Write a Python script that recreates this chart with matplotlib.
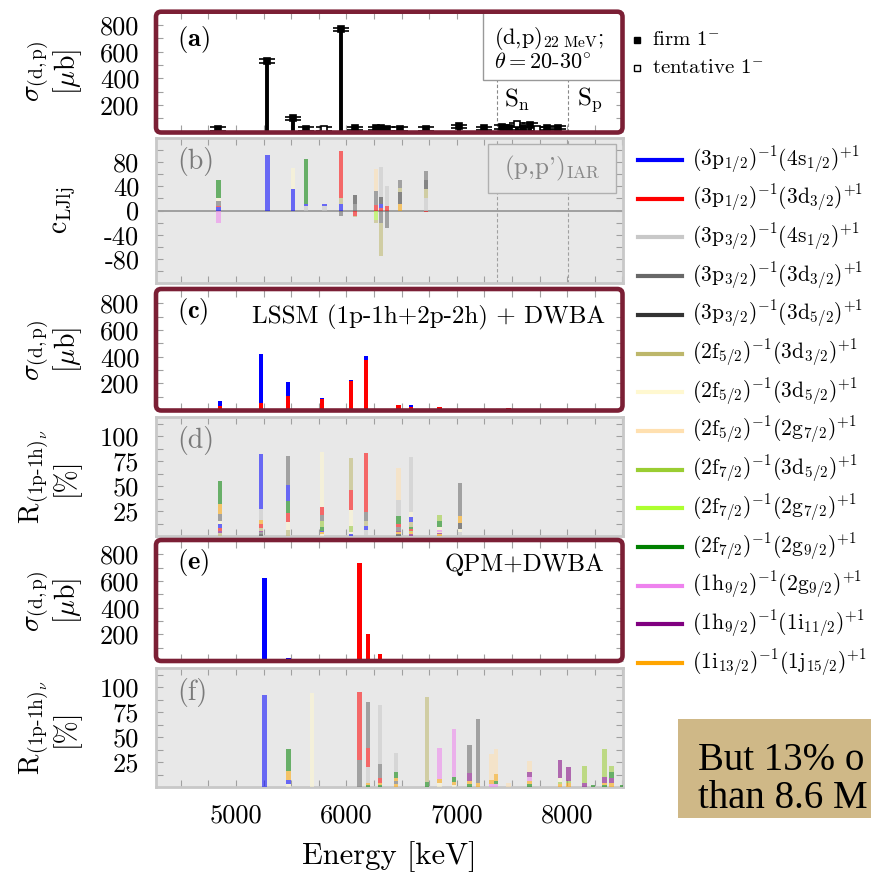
import matplotlib
matplotlib.use('Agg')
import matplotlib.pyplot as plt
from matplotlib.patches import Rectangle, FancyBboxPatch
from matplotlib.lines import Line2D
from matplotlib.ticker import MultipleLocator, FuncFormatter

plt.rcParams['font.family'] = ['cmr10']
plt.rcParams['mathtext.fontset'] = 'cm'
plt.rcParams['axes.unicode_minus'] = False

# 1p-1h components (hole, particle) and colours
comp_hole = ['3p_{1/2}', '3p_{1/2}', '3p_{3/2}', '3p_{3/2}', '3p_{3/2}', '2f_{5/2}', '2f_{5/2}',
             '2f_{5/2}', '2f_{7/2}', '2f_{7/2}', '2f_{7/2}', '1h_{9/2}', '1h_{9/2}', '1i_{13/2}']
comp_part = ['4s_{1/2}', '3d_{3/2}', '4s_{1/2}', '3d_{3/2}', '3d_{5/2}', '3d_{3/2}', '3d_{5/2}',
             '2g_{7/2}', '3d_{5/2}', '2g_{7/2}', '2g_{9/2}', '2g_{9/2}', '1i_{11/2}', '1j_{15/2}']
comp_colors = ['#0000ff', '#ff0000', '#c8c8c8', '#686868', '#333333', '#bdb76b', '#fff8d0',
               '#ffe0b0', '#9acd32', '#adff2f', '#008000', '#ee82ee', '#800080', '#ffa500']

# (a) experiment (d,p)
exp_E = [4840, 5284, 5514, 5635, 5801, 5949, 6079, 6269, 6312, 6366, 6487, 6723, 7024,
         7242, 7408, 7469, 7544, 7601, 7665, 7726, 7817, 7914]
exp_sig = [20, 530, 100, 20, 20, 768, 25, 25, 25, 20, 20, 20, 40, 25, 35, 25, 55, 25, 50, 20, 25, 30]
exp_firm = [1, 1, 1, 1, 0, 1, 1, 1, 1, 1, 1, 1, 1, 1, 1, 1, 0, 1, 1, 0, 1, 1]

# (b) c_LJlj from (p,p')_IAR, segments (component, value) stacked from zero
iar_E = [4840, 5284, 5514, 5635, 5801, 5949, 6079, 6269, 6312, 6366, 6487, 6723]
iar_seg = [
    [(0, 5.5), (1, 2.5), (3, 7.4), (6, 5.6), (10, 30), (11, -20)],
    [(0, 91.5)],
    [(0, 36), (6, 34.5)],
    [(2, 8), (0, 2), (10, 76)],
    [(2, 8), (0, 2.5)],
    [(0, 10), (5, 11), (1, 77), (3, -9)],
    [(3, 11), (4, 15), (1, -9), (5, -2)],
    [(1, 9), (3, 24), (7, 36), (9, -15), (5, -5)],
    [(1, 4), (0, 7), (4, 11), (2, 50), (3, -20), (5, -55)],
    [(1, 8), (2, 32), (3, -29)],
    [(13, 11), (4, 20), (5, 6), (3, 14)],
    [(2, 21), (5, 14), (4, 16), (3, 14), (1, -2)],
]

# (c) LSSM + DWBA cross sections
lssm_E = [4855, 5227, 5468, 5777, 6043, 6176, 6472, 6587, 6843, 7028, 7122, 7197, 7273,
          7348, 7469, 7605, 7711, 7786, 7862, 8043, 8103, 8164, 8224]
lssm_sig = [
    [(1, 32), (0, 35)], [(1, 50), (0, 367)], [(1, 105), (0, 102)], [(1, 82), (0, 10)],
    [(1, 217), (0, 8)], [(1, 375), (0, 27)], [(1, 37)], [(1, 25), (0, 12)], [(1, 20)],
    [(1, 4)], [(1, 4)], [(1, 4)], [(1, 4)], [(1, 4)], [(1, 12)], [(1, 4)], [(1, 4)],
    [(1, 4)], [(1, 4)], [(1, 4)], [(1, 4)], [(1, 4)], [(0, 4)],
]

# (d) LSSM 1p-1h composition [%]
lssm_R_E = [4855, 5227, 5468, 5777, 6043, 6176, 6472, 6587, 6843, 7028]
lssm_R = [
    [(5, 2.7), (12, 2.3), (1, 2.7), (0, 4), (6, 3.3), (3, 6.7), (13, 10), (10, 23.3)],
    [(4, 2), (3, 1.7), (12, 1.3), (5, 2.7), (1, 4.3), (13, 4), (2, 10.7), (0, 55)],
    [(5, 6), (6, 7.7), (1, 9.6), (10, 11.7), (0, 16), (3, 29)],
    [(6, 2), (13, 1.7), (0, 1.6), (10, 3.4), (8, 6.3), (3, 6), (1, 7.7), (6, 55)],
    [(0, 2), (6, 2.3), (8, 6), (6, 15.7), (1, 20), (5, 32.3)],
    [(2, 6), (0, 4.3), (5, 5), (3, 8.4), (1, 59.6)],
    [(4, 2), (13, 1.7), (12, 1.6), (3, 3.4), (1, 3.3), (10, 8.3), (2, 15.7), (7, 31.7)],
    [(12, 1.7), (13, 2), (8, 1.6), (1, 1.7), (10, 1.7), (5, 5), (0, 5), (6, 5), (2, 55)],
    [(13, 1.7), (12, 1), (7, 1.6), (11, 1.7), (6, 3.3), (10, 5.7), (8, 6)],
    [(2, 4.3), (6, 2.7), (4, 6.3), (13, 7), (3, 32.4)],
]

# (e) QPM + DWBA cross sections
qpm_E = [5257, 5474, 6118, 6193, 6306, 6451]
qpm_sig = [[(0, 625)], [(0, 20)], [(1, 737)], [(1, 202)], [(1, 50)], [(1, 8)]]

# (f) QPM 1p-1h composition [%]
qpm_R_E = [5257, 5474, 5686, 6118, 6193, 6306, 6451, 6729, 6843, 6976, 7115, 7191, 7315,
           7357, 7469, 7659, 7937, 8013, 8155, 8234, 8339, 8400, 8497]
qpm_R = [
    [(0, 92)],
    [(6, 2.7), (0, 4.3), (13, 9), (10, 22)],
    [(6, 93.7)],
    [(3, 27), (1, 67.7)],
    [(10, 1.7), (13, 2), (2, 16.6), (1, 18.4), (3, 46)],
    [(10, 2.3), (13, 2), (1, 4.4), (3, 14), (2, 59.3)],
    [(13, 2.7), (3, 3.3), (13, 2.7), (10, 6.6), (2, 18.4)],
    [(10, 4.7), (5, 85.3)],
    [(6, 3.7), (13, 4), (11, 31.3)],
    [(6, 2), (13, 2.7), (10, 5), (11, 48.3)],
    [(10, 3), (13, 3.3), (12, 8), (3, 27.7)],
    [(13, 4.3), (3, 63.7)],
    [(11, 2.7), (13, 4.3), (7, 26)],
    [(11, 2.7), (10, 3.6), (13, 6.7), (7, 25)],
    [(7, 3.7)],
    [(10, 3), (13, 3.3), (11, 4), (12, 5), (7, 10.7)],
    [(13, 3), (8, 2.3), (6, 3.4), (12, 18.3)],
    [(13, 3.7), (8, 2.6), (12, 13.4)],
    [(12, 3.7), (8, 17.3)],
    [(10, 1.7)],
    [(10, 1.7), (13, 2), (12, 6), (8, 28.3)],
    [(13, 4.3), (12, 4.3), (10, 6), (8, 6.7)],
    [(10, 2)],
]

S_n, S_p = 7368, 8004

W, H = 871, 874
maroon = '#7b1f35'
fig = plt.figure(figsize=(W / 100, H / 100), dpi=100)


def add_ax(top, bot):
    return fig.add_axes([156 / W, 1 - bot / H, (623 - 156) / W, (bot - top) / H])


def style(ax, ylim, step, labels, faded):
    ax.set_xlim(4275, 8505)
    ax.set_ylim(*ylim)
    ax.xaxis.set_major_locator(MultipleLocator(250))
    ax.xaxis.set_major_formatter(FuncFormatter(lambda v, p: '%d' % v if v % 1000 == 0 else ''))
    ax.yaxis.set_major_locator(MultipleLocator(step))
    ax.yaxis.set_major_formatter(FuncFormatter(lambda v, p: '%d' % v if round(v, 2) in labels else ''))
    ax.tick_params(direction='in', top=True, right=True, length=5, width=0.8, color='#a0a0a0',
                   labelsize=19, pad=12, labelbottom=False)
    if faded:
        ax.set_facecolor('#e8e8e8')
        for s in ax.spines.values():
            s.set_color('#c8c8c8')
            s.set_linewidth(2)
    else:
        for s in ax.spines.values():
            s.set_visible(False)


def stack(ax, E, segs, alpha=1.0, w=40, z=2):
    for e, seg in zip(E, segs):
        pos, neg = 0, 0
        for c, v in seg:
            if v >= 0:
                ax.bar(e, v, w, bottom=pos, color=comp_colors[c], alpha=alpha, lw=0, zorder=z)
                pos += v
            else:
                ax.bar(e, v, w, bottom=neg, color=comp_colors[c], alpha=alpha, lw=0, zorder=z)
                neg += v


def frame(top, bot):
    fig.add_artist(FancyBboxPatch((156 / W, 1 - bot / H), (622.5 - 156) / W, (bot - top) / H,
                                  boxstyle='round,pad=0,rounding_size=0.006', fc='none',
                                  ec=maroon, lw=3.3, transform=fig.transFigure, zorder=10))


def ylab(ax, text, right_px):
    ax.set_ylabel(text, fontsize=20, linespacing=1.0)
    ax.yaxis.set_label_coords((right_px - 156) / 467, 0.5)


sig_lab = r'$\sigma_{\rm (d,p)}$' + '\n' + r'[$\mu$b]'
R_lab = r'$\mathrm{R}_{(\mathrm{1p}\text{-}\mathrm{1h})_\nu}$' + '\n' + '[%]'
fade = 0.55
gtxt = '#7a7a7a'

# (a)
ax = add_ax(11.7, 131.7)
style(ax, (0, 900), 100, [200, 400, 600, 800], False)
for e, s, f in zip(exp_E, exp_sig, exp_firm):
    ax.vlines(e, 0, s, color='k', lw=2.8, zorder=3)
    ax.errorbar(e, s, yerr=12, fmt='s', ms=5, mfc='k' if f else 'white', mec='k', mew=1.2,
                ecolor='k', elinewidth=2, capsize=6, capthick=2.4, zorder=4)
ax.vlines([S_n], 0, 390, colors='#888888', lw=0.8, ls=(0, (3, 2)), zorder=1)
ax.vlines([S_p], 0, 900, colors='#888888', lw=0.8, ls=(0, (3, 2)), zorder=1)
ax.add_patch(Rectangle((0.70, 0.43), 0.31, 0.6, transform=ax.transAxes, fc='white',
                       ec='#999999', lw=1, zorder=5))
ax.text(0.723, 0.78, r'(d,p)$_{\rm 22\ MeV}$;', transform=ax.transAxes, fontsize=16, va='center', zorder=6)
ax.text(0.723, 0.58, r'$\theta = 20$-$30^{\circ}$', transform=ax.transAxes, fontsize=16, va='center', zorder=6)
ax.text(7430, 238, r'S$_{\rm n}$', fontsize=18, va='center')
ax.text(8091, 238, r'S$_{\rm p}$', fontsize=18, va='center')
ax.text(0.045, 0.77, r'$\mathbf{(a)}$', transform=ax.transAxes, fontsize=19, va='center')
ylab(ax, sig_lab, 84)
frame(11.7, 132.5)

# (b)
ax = add_ax(138, 283)
style(ax, (-120, 120), 20, [-80, -40, 0, 40, 80], True)
ax.axhline(0, color='#a0a0a0', lw=1.4, zorder=1)
stack(ax, iar_E, iar_seg, fade, z=3)
ax.vlines([S_n, S_p], -120, 120, colors='#a0a0a0', lw=0.8, ls=(0, (3, 2)), zorder=1)
ax.add_patch(Rectangle((0.711, 0.621), 0.274, 0.338, transform=ax.transAxes, fc='#e8e8e8',
                       ec='#b0b0b0', lw=1, zorder=5))
ax.text(0.848, 0.79, r"(p,p')$_{\rm IAR}$", transform=ax.transAxes, fontsize=18, color='#888888',
        ha='center', va='center', zorder=6)
ax.text(0.045, 0.84, '(b)', transform=ax.transAxes, fontsize=20, color=gtxt, va='center')
ylab(ax, r'$\mathrm{c}_{\mathrm{LJlj}}$', 78)

# (c)
ax = add_ax(290, 410)
style(ax, (0, 900), 100, [200, 400, 600, 800], False)
stack(ax, lssm_E, lssm_sig)
ax.text(0.045, 0.82, r'$\mathbf{(c)}$', transform=ax.transAxes, fontsize=19, va='center')
ax.text(0.961, 0.775, 'LSSM (1p-1h+2p-2h) + DWBA', transform=ax.transAxes, fontsize=18,
        ha='right', va='center')
ylab(ax, sig_lab, 84)
frame(289, 410.5)

# (d)
ax = add_ax(417, 536)
style(ax, (0, 119), 12.5, [25, 50, 75, 100], True)
stack(ax, lssm_R_E, lssm_R, fade, z=3)
ax.text(0.045, 0.80, '(d)', transform=ax.transAxes, fontsize=20, color=gtxt, va='center')
ylab(ax, R_lab, 80)

# (e)
ax = add_ax(541, 661)
style(ax, (0, 900), 100, [200, 400, 600, 800], False)
stack(ax, qpm_E, qpm_sig)
ax.text(0.045, 0.817, r'$\mathbf{(e)}$', transform=ax.transAxes, fontsize=19, va='center')
ax.text(0.961, 0.80, 'QPM+DWBA', transform=ax.transAxes, fontsize=18, ha='right', va='center')
ylab(ax, sig_lab, 84)
frame(540, 661)

# (f)
ax = add_ax(668, 787)
style(ax, (0, 119), 12.5, [25, 50, 75, 100], True)
ax.tick_params(labelbottom=True)
stack(ax, qpm_R_E, qpm_R, fade, z=3)
ax.text(0.045, 0.79, '(f)', transform=ax.transAxes, fontsize=20, color=gtxt, va='center')
ylab(ax, R_lab, 80)
ax.set_xlabel('Energy [keV]', fontsize=22, labelpad=10)

# legend for experiment
fig.add_artist(Line2D([637 / W], [1 - 40 / H], marker='s', ms=5, color='k', transform=fig.transFigure))
fig.add_artist(Line2D([637 / W], [1 - 68 / H], marker='s', ms=5, mfc='white', mec='k', mew=1,
                      color='k', transform=fig.transFigure))
fig.text(652 / W, 1 - 40 / H, r'firm 1$^{-}$', fontsize=15, va='center')
fig.text(652 / W, 1 - 68 / H, r'tentative 1$^{-}$', fontsize=15, va='center')

# legend for components
for i, (h, p) in enumerate(zip(comp_hole, comp_part)):
    y = 1 - (160 + i * 38.7) / H
    fig.add_artist(Line2D([638 / W, 682 / W], [y, y], color=comp_colors[i], lw=3,
                          transform=fig.transFigure))
    hs = h[0] + r'\mathrm{' + h[1] + '}' + h[2:]
    ps = p[0] + r'\mathrm{' + p[1] + '}' + p[2:]
    fig.text(692 / W, y, r'$(%s)^{-1}(%s)^{+1}$' % (hs, ps), fontsize=15.5, va='center')

# slide box
fig.add_artist(Rectangle((678 / W, 1 - 818 / H), (W - 678) / W, 99 / H, fc='#cfb887', ec='none',
                         transform=fig.transFigure))
fig.text(698 / W, 1 - 770 / H, 'But 13% o', fontsize=28, family='Liberation Serif')
fig.text(698 / W, 1 - 808 / H, 'than 8.6 M', fontsize=28, family='Liberation Serif')

fig.savefig('out.png', dpi=100)
